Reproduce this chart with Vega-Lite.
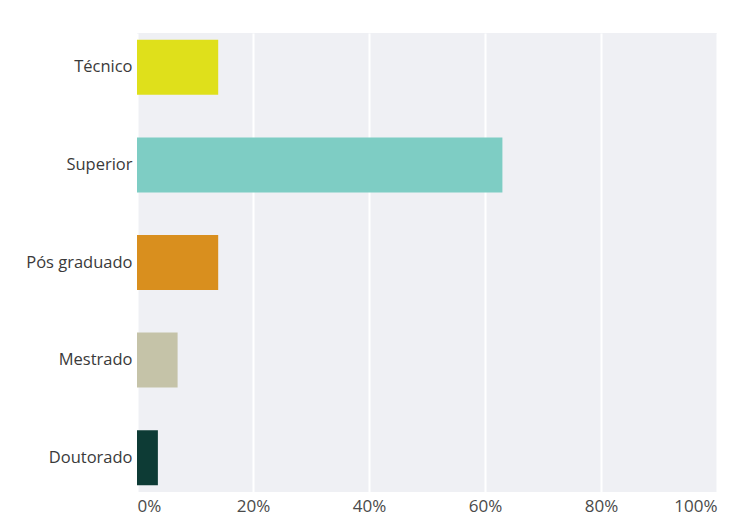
{
  "$schema": "https://vega.github.io/schema/vega-lite/v6.json",
  "autosize": {"type": "none"},
  "padding": {"left": 137, "top": 33, "right": 15, "bottom": 39},
  "width": 580,
  "height": 459,
  "background": "#ffffff",
  "view": {"fill": "#eff0f4", "stroke": null},
  "data": {
    "values": [
      {"nivel": "Técnico", "pct": 14},
      {"nivel": "Superior", "pct": 63},
      {"nivel": "Pós graduado", "pct": 14},
      {"nivel": "Mestrado", "pct": 7},
      {"nivel": "Doutorado", "pct": 3.6}
    ]
  },
  "mark": {"type": "bar"},
  "encoding": {
    "y": {
      "field": "nivel",
      "type": "nominal",
      "sort": ["Técnico", "Superior", "Pós graduado", "Mestrado", "Doutorado"],
      "scale": {"paddingInner": 0.436, "paddingOuter": 0.07},
      "axis": {
        "title": null,
        "ticks": false,
        "domain": false,
        "labelPadding": 5,
        "labelFont": "Open Sans",
        "labelFontSize": 16.5,
        "labelColor": "#3a3a3a",
        "labelLimit": 200
      }
    },
    "x": {
      "field": "pct",
      "type": "quantitative",
      "scale": {"domain": [0, 100], "nice": false},
      "axis": {
        "title": null,
        "values": [0, 20, 40, 60, 80, 100],
        "labelExpr": "datum.value + '%'",
        "ticks": false,
        "domain": false,
        "labelFlush": true,
        "labelPadding": 6,
        "labelFont": "Open Sans",
        "labelFontSize": 17,
        "labelColor": "#4a4a4a",
        "grid": true,
        "gridColor": "#ffffff",
        "gridWidth": 2
      }
    },
    "color": {
      "field": "nivel",
      "type": "nominal",
      "legend": null,
      "scale": {
        "domain": ["Técnico", "Superior", "Pós graduado", "Mestrado", "Doutorado"],
        "range": ["#dfe01b", "#7ecdc4", "#d98f1e", "#c5c3a8", "#0d3b35"]
      }
    }
  }
}
